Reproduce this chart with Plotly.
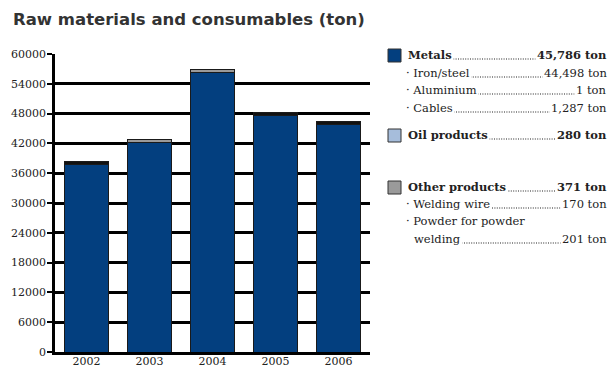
import plotly.graph_objects as go

years = ["2002", "2003", "2004", "2005", "2006"]
metals = [37800, 42150, 56300, 47650, 45786]
other_top = [650, 550, 600, 650, 651]
top_colors = ["#111111", "#9a9a9a", "#9a9a9a", "#111111", "#111111"]

legend_labels = ["Metals", "· Iron/steel", "· Aluminium", "· Cables", "Oil products",
                 "Other products", "· Welding wire", "· Powder for powder", "welding"]
legend_values = ["45,786 ton", "44,498 ton", "1 ton", "1,287 ton", "280 ton",
                 "371 ton", "170 ton", "", "201 ton"]
legend_bold = [True, False, False, False, True, True, False, False, False]
row_y = [55, 73, 90, 108, 135, 187, 204, 221, 239]
row_x = [408, 406, 406, 406, 408, 408, 406, 406, 414]
legend_boxes = [("#033f7f", 55), ("#a6bddb", 135), ("#9a9a9a", 187)]

W, H = 612, 367
L, R, T, B = 55, 370, 54, 352


def px(x):
    return (x - L) / (R - L)


def py(y):
    return (B - y) / (B - T)


fig = go.Figure()
fig.add_trace(go.Bar(x=years, y=metals, name="Metals",
                     marker=dict(color="#033f7f", line=dict(color="#1a1a1a", width=1))))
fig.add_trace(go.Bar(x=years, y=other_top, name="Oil and other products",
                     marker=dict(color=top_colors, line=dict(color="#1a1a1a", width=1))))

annotations = []
shapes = []
serif = "DejaVu Serif"
for label, value, bold, y, xl in zip(legend_labels, legend_values, legend_bold, row_y, row_x):
    if value:
        # dot leader drawn as a dotted line, covered by the white label/value boxes
        shapes.append(dict(type="line", xref="paper", yref="paper",
                           x0=px(xl + 2), x1=px(604), y0=py(y + 4), y1=py(y + 4),
                           line=dict(color="#222", width=1.2, dash="1px,1.4px")))
        annotations.append(dict(x=px(609), y=py(y), xref="paper", yref="paper",
                                xanchor="right", yanchor="middle", showarrow=False,
                                text=("<b>%s</b>" % value) if bold else value,
                                bgcolor="white", borderpad=1,
                                font=dict(family=serif, size=11.5, color="#222")))
    annotations.append(dict(x=px(xl - 2), y=py(y), xref="paper", yref="paper",
                            xanchor="left", yanchor="middle", showarrow=False,
                            text=("<b>%s</b>" % label) if bold else label,
                            bgcolor="white", borderpad=1,
                            font=dict(family=serif, size=11.5, color="#222")))
for color, y in legend_boxes:
    shapes.append(dict(type="rect", xref="paper", yref="paper",
                       x0=px(388), x1=px(401), y0=py(y + 7), y1=py(y - 6),
                       fillcolor=color, line=dict(color="#333", width=1)))

annotations.append(dict(x=px(11), y=py(19), xref="paper", yref="paper",
                        xanchor="left", yanchor="middle", showarrow=False,
                        text="<b>Raw materials and consumables (ton)</b>",
                        font=dict(family="DejaVu Sans", size=16.5, color="#333")))

fig.update_layout(
    width=W, height=H,
    margin=dict(l=L, r=W - R, t=T, b=H - B, autoexpand=False),
    paper_bgcolor="white", plot_bgcolor="white",
    barmode="stack", bargap=0.29, showlegend=False,
    annotations=annotations, shapes=shapes,
    xaxis=dict(showline=True, linecolor="black", linewidth=2.5, ticks="",
               tickfont=dict(family=serif, size=11, color="#222"), showgrid=False,
               fixedrange=True, ticklabelstandoff=-3),
    yaxis=dict(range=[0, 60000], dtick=6000, tickformat="d", showline=True,
               linecolor="black", linewidth=2.5, ticks="outside", ticklen=5,
               tickwidth=2, tickcolor="black", showgrid=True, gridcolor="black",
               gridwidth=2.5, zeroline=False, ticklabelstandoff=-1,
               tickfont=dict(family=serif, size=11, color="#222")),
)
fig.write_html("out.html", config={"displayModeBar": False},
               post_script="document.body.style.margin='0px';")
